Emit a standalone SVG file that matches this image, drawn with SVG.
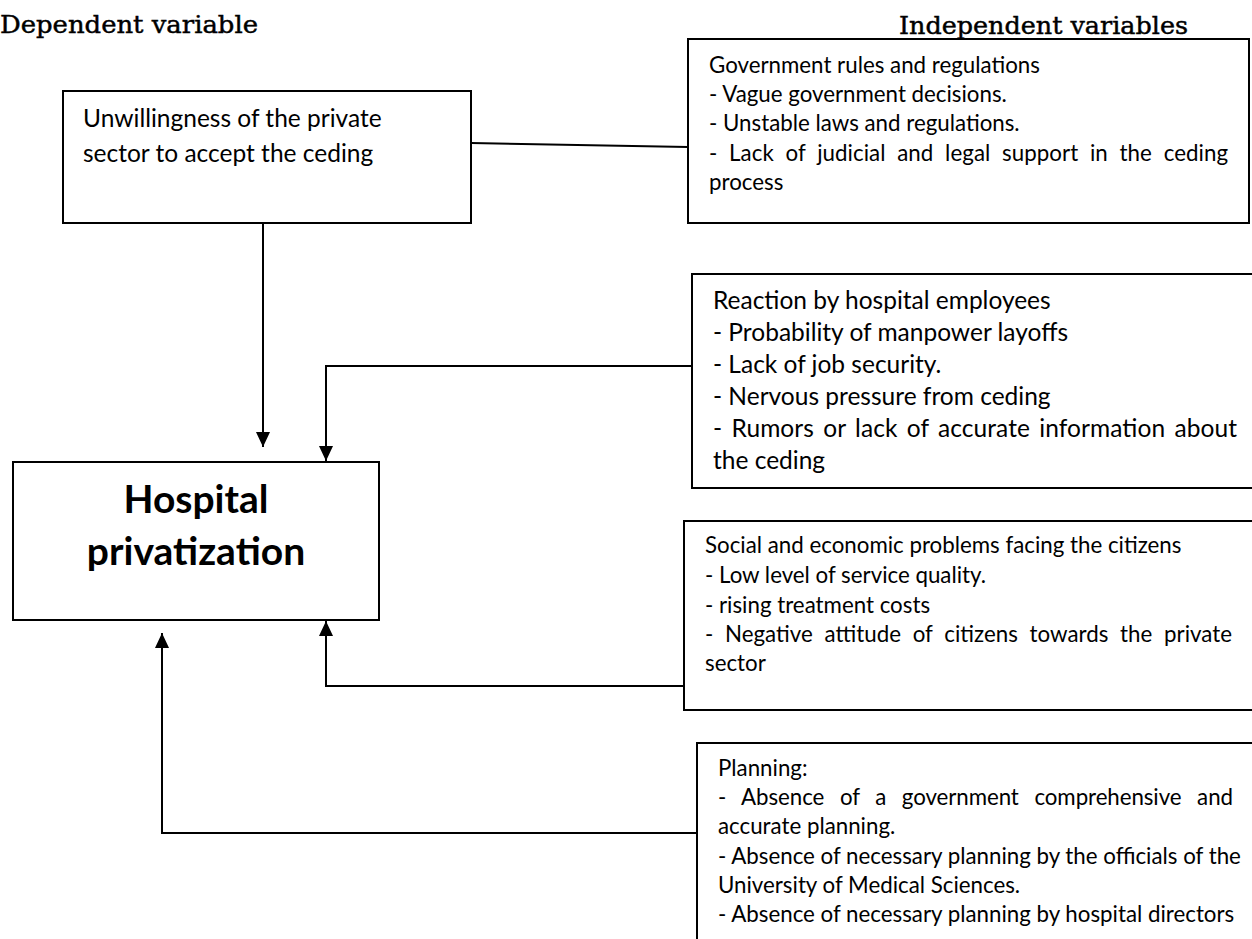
<svg xmlns="http://www.w3.org/2000/svg" width="1252" height="939" viewBox="0 0 1252 939">
<defs>
<style>
.box{fill:#fff;stroke:#000;stroke-width:2}
.hdr{font-family:"DejaVu Serif","Liberation Serif",serif;font-size:24px;fill:#000;stroke:#000;stroke-width:0.45}
.t{font-family:Lato,"Liberation Sans",sans-serif;fill:#000}
.s22{font-size:22.3px}
.s24{font-size:24.5px}
.big{font-size:39px;font-weight:bold}
.con{fill:none;stroke:#000;stroke-width:2}
</style>
<marker id="arr" markerUnits="userSpaceOnUse" markerWidth="16" markerHeight="16" refX="15" refY="7" orient="auto">
<path d="M0,0 L15,7 L0,14 z" fill="#000"/>
</marker>
</defs>
<rect width="1252" height="939" fill="#fff"/>
<g id="headers">
<text class="hdr" x="0" y="33" textLength="258" lengthAdjust="spacingAndGlyphs">Dependent variable</text>
<text class="hdr" x="899" y="34" textLength="289" lengthAdjust="spacingAndGlyphs">Independent variables</text>
</g>
<g id="connectors">
<line class="con" x1="471" y1="143" x2="688" y2="147"/>
<line class="con" x1="263" y1="223" x2="263" y2="447" marker-end="url(#arr)"/>
<polyline class="con" points="692,366 326,366 326,461" marker-end="url(#arr)"/>
<polyline class="con" points="684,686 326,686 326,621" marker-end="url(#arr)"/>
<polyline class="con" points="697,833 162,833 162,633" marker-end="url(#arr)"/>
</g>
<g id="unwillingness">
<rect class="box" x="63" y="91" width="408" height="132"/>
<text class="t s24" x="83" y="127">Unwillingness of the private</text>
<text class="t s24" x="83" y="162">sector to accept the ceding</text>
</g>
<g id="government">
<rect class="box" x="688" y="39" width="561" height="184"/>
<text class="t s22" x="709" y="73">Government rules and regulations</text>
<text class="t s22" x="709" y="102">- Vague government decisions.</text>
<text class="t s22" x="709" y="131">- Unstable laws and regulations.</text>
<text class="t s22" x="709" y="161" word-spacing="6" textLength="519" lengthAdjust="spacing">- Lack of judicial and legal support in the ceding</text>
<text class="t s22" x="709" y="190">process</text>
</g>
<g id="reaction">
<rect class="box" x="692" y="274" width="580" height="214"/>
<text class="t s24" x="713" y="309">Reaction by hospital employees</text>
<text class="t s24" x="713" y="341">- Probability of manpower layoffs</text>
<text class="t s24" x="713" y="373">- Lack of job security.</text>
<text class="t s24" x="713" y="405">- Nervous pressure from ceding</text>
<text class="t s24" x="713" y="437" word-spacing="3" textLength="524" lengthAdjust="spacing">- Rumors or lack of accurate information about</text>
<text class="t s24" x="713" y="469">the ceding</text>
</g>
<g id="hospital">
<rect class="box" x="13" y="462" width="366" height="158"/>
<text class="t big" x="196" y="513" text-anchor="middle">Hospital</text>
<text class="t big" x="196" y="565" text-anchor="middle">privatization</text>
</g>
<g id="social">
<rect class="box" x="684" y="521" width="590" height="189"/>
<text class="t s22" x="705" y="553">Social and economic problems facing the citizens</text>
<text class="t s22" x="705" y="583">- Low level of service quality.</text>
<text class="t s22" x="705" y="613">- rising treatment costs</text>
<text class="t s22" x="705" y="642" word-spacing="6" textLength="527" lengthAdjust="spacing">- Negative attitude of citizens towards the private</text>
<text class="t s22" x="705" y="671">sector</text>
</g>
<g id="planning">
<rect class="box" x="697" y="743" width="580" height="220"/>
<text class="t s22" x="718" y="776">Planning:</text>
<text class="t s22" x="718" y="805" word-spacing="10" textLength="515" lengthAdjust="spacing">- Absence of a government comprehensive and</text>
<text class="t s22" x="718" y="834">accurate planning.</text>
<text class="t s22" x="718" y="864">- Absence of necessary planning by the officials of the</text>
<text class="t s22" x="718" y="893">University of Medical Sciences.</text>
<text class="t s22" x="718" y="922">- Absence of necessary planning by hospital directors</text>
</g>
</svg>
